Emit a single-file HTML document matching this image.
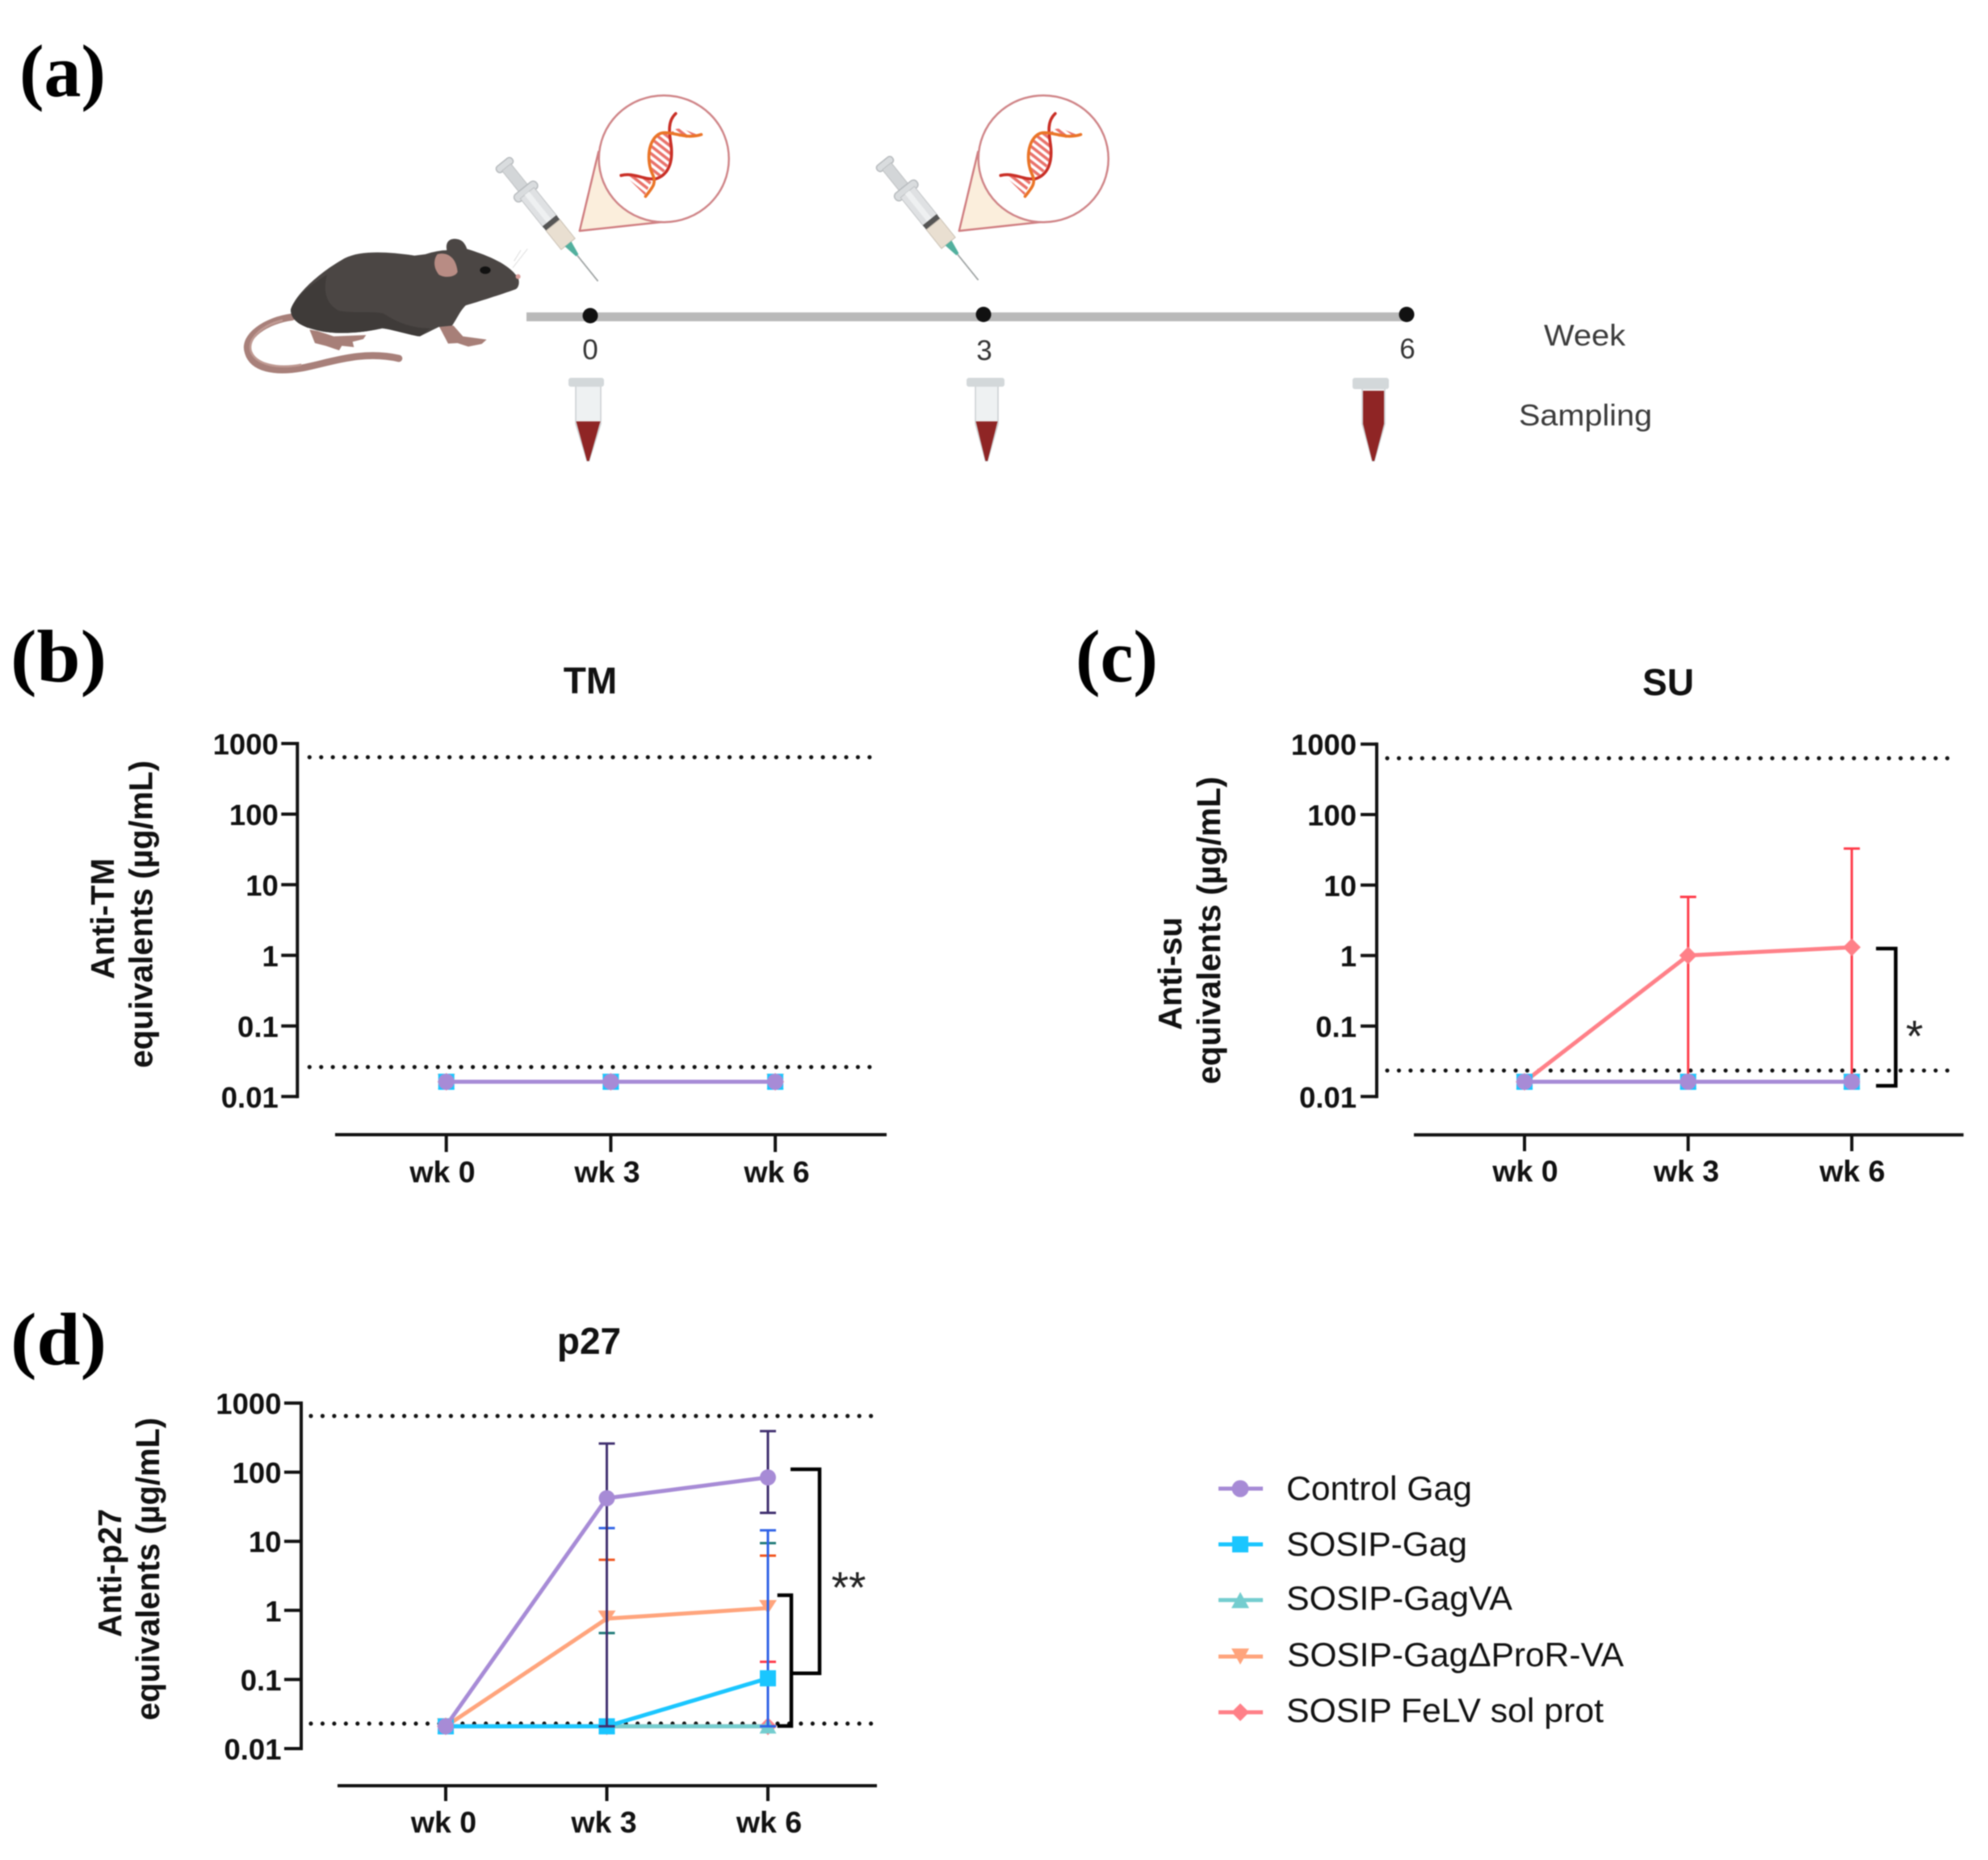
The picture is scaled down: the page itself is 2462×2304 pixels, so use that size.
<!DOCTYPE html>
<html lang="en">
<head>
<meta charset="utf-8">
<title>Immunisation schedule and antibody responses</title>
<style>
html,body{margin:0;padding:0;background:#fff;}
svg{display:block;filter:blur(0.7px);}
text{font-family:"Liberation Sans",sans-serif;fill:#111;}
.tick{font-size:36.5px;font-weight:bold;text-anchor:end;}
.cat{font-size:37.5px;font-weight:bold;text-anchor:middle;}
.ttl{font-size:46px;font-weight:bold;text-anchor:middle;}
.ytitle{font-size:41px;font-weight:bold;}
.panel{font-family:"Liberation Serif",serif;font-size:92px;font-weight:bold;fill:#000;}
.leg{font-size:42px;fill:#111;}
.tl{font-size:35px;fill:#333;text-anchor:middle;}
.tlr{font-size:37px;fill:#3a3a3a;}
.sig{font-size:55px;fill:#222;text-anchor:middle;}
</style>
</head>
<body>
<svg id="figure" xmlns="http://www.w3.org/2000/svg" width="2462" height="2304" viewBox="0 0 2462 2304">
<defs>
  <pattern id="hatch" patternUnits="userSpaceOnUse" width="22" height="22" patternTransform="rotate(38)">
    <rect width="22" height="11" fill="#e9726b"/>
  </pattern>
  <g id="bubble">
    <path d="M742.7 188 L719.3 286 L840 273 Z" fill="#fbeedc" stroke="#cf7d80" stroke-width="2.5" stroke-linejoin="round"/>
    <ellipse cx="823.7" cy="196.7" rx="80.5" ry="78.5" fill="#fff" stroke="#cf8487" stroke-width="2.5"/>
    <g transform="translate(600,100) scale(0.3333)">
      <path d="M700 190 C725 160 770 195 800 200 L745 215 L690 190 Z M650 200 C610 240 610 320 640 360 C680 345 700 300 695 240 C695 220 690 200 680 195 Z M530 355 C560 345 590 355 615 365 L625 375 L600 425 Z" fill="url(#hatch)"/>
      <path d="M715 122 C685 150 690 190 698 240 C705 300 690 350 640 365 C590 368 560 340 512 352" fill="none" stroke="#c92f26" stroke-width="11" stroke-linecap="round"/>
      <path d="M810 200 C750 220 700 185 660 195 C610 215 605 300 630 350 C645 385 625 400 603 430" fill="none" stroke="#ea7427" stroke-width="11" stroke-linecap="round"/>
    </g>
  </g>
  <g id="syringe">
    <rect x="-3" y="-12" width="9" height="24" rx="4" fill="#d9dcde" stroke="#b4b8bb" stroke-width="1.5"/>
    <rect x="5" y="-7" width="36" height="14" fill="#d3d6d8" stroke="#bcbfc1" stroke-width="1"/>
    <rect x="38" y="-17" width="11" height="34" rx="5" fill="#d9dcde" stroke="#b6babd" stroke-width="1.5"/>
    <rect x="46" y="-11" width="46" height="22" fill="#dfe1e3" stroke="#bfc2c4" stroke-width="1"/>
    <rect x="46" y="-3" width="46" height="7" fill="#eef0f1"/>
    <rect x="90" y="-11" width="7" height="22" fill="#555"/>
    <rect x="97" y="-11" width="30" height="22" fill="#e9dfd1" stroke="#c8bfb2" stroke-width="1"/>
    <path d="M127 -5 L145 -2 L145 2 L127 5 Z" fill="#52b09e"/>
    <line x1="145" y1="0" x2="186" y2="0" stroke="#9ea3a3" stroke-width="1.8"/>
  </g>
</defs>
<rect x="0" y="0" width="2462" height="2304" fill="#fff"/>

<!-- panel letters -->
<text class="panel" x="24" y="119" textLength="107" lengthAdjust="spacingAndGlyphs">(a)</text>
<text class="panel" x="13" y="844" textLength="119" lengthAdjust="spacingAndGlyphs">(b)</text>
<text class="panel" x="1332" y="844" textLength="102" lengthAdjust="spacingAndGlyphs">(c)</text>
<text class="panel" x="13" y="1690" textLength="119" lengthAdjust="spacingAndGlyphs">(d)</text>

<!-- schedule panel -->
<g>
  <g transform="translate(280,260) scale(0.3333)">
    <path d="M245 398 C150 410 60 470 82 530 C100 590 180 605 280 588 C380 570 500 520 642 552" fill="none" stroke="#a8807a" stroke-width="26" stroke-linecap="round"/>
    <path d="M210 410 C130 430 80 480 92 525 C110 575 190 592 280 575" fill="none" stroke="#c09a93" stroke-width="8"/>
    <path d="M310 445 L340 450 L400 470 L520 465 L510 480 L470 490 L475 510 L430 505 L420 522 L370 505 L330 495 Z" fill="#a77f78"/>
    <path d="M790 430 L845 430 L880 470 L968 482 L950 498 L900 508 L860 495 L825 497 Z" fill="#a77f78"/>
    <path d="M240 370 C260 310 350 230 440 180 C500 150 600 155 700 170 L740 165 C770 155 800 150 820 150 C815 125 825 105 855 108 C880 110 890 130 895 145 C960 165 1040 195 1075 240 C1095 255 1090 290 1075 295 C1020 315 940 340 890 355 C870 375 860 400 840 430 L790 435 L720 470 C680 465 620 445 580 440 C520 455 420 465 350 450 C300 440 240 420 240 370 Z" fill="#4b4644"/>
    <path d="M240 370 C260 320 300 290 375 240 C360 300 370 350 420 375 C480 385 540 375 585 385 C640 420 690 440 760 440 L720 470 C680 465 620 445 580 440 C520 455 420 465 350 450 C300 440 240 420 240 370 Z" fill="#3f3b39"/>
    <path d="M785 165 C820 155 855 175 860 230 C855 250 810 255 790 240 C770 215 770 185 785 165 Z" fill="#b88c84"/>
    <ellipse cx="963" cy="224" rx="20" ry="14" fill="#111"/>
    <circle cx="1085" cy="248" r="9" fill="#d99d9a"/>
    <path d="M1065 215 L1120 145 M1070 190 L1095 150" stroke="#ddd" stroke-width="3" fill="none"/>
  </g>
  <use href="#bubble" transform="translate(-1.5,0)"/>
  <use href="#bubble" transform="translate(468.5,0)"/>
  <use href="#syringe" transform="translate(624,203.3) rotate(51.2)"/>
  <use href="#syringe" transform="translate(1095,202) rotate(51.2)"/>
  <rect x="652" y="387" width="1089" height="11" fill="#b9b9b9"/>
  <circle cx="731" cy="391" r="9.5" fill="#111"/>
  <circle cx="1218" cy="389.5" r="9.5" fill="#111"/>
  <circle cx="1742" cy="389.5" r="9.5" fill="#111"/>
  <text class="tl" x="731" y="445">0</text>
  <text class="tl" x="1219" y="446">3</text>
  <text class="tl" x="1743" y="444">6</text>
  <text class="tlr" x="1912" y="428" textLength="101" lengthAdjust="spacingAndGlyphs">Week</text>
  <text class="tlr" x="1881" y="527" textLength="165" lengthAdjust="spacingAndGlyphs">Sampling</text>

  <g>
    <path d="M713 478 L744 478 L744 525 L729.5 571 L727 571 L713 525 Z" fill="#eef1f2" stroke="#c9cdcf" stroke-width="1.5"/>
    <path d="M713.5 522 L743.5 522 L729.5 571 L727 571 Z" fill="#8f2525"/>
    <rect x="704" y="468" width="44" height="11" rx="3" fill="#d3d8da"/>
  </g>
  <g>
    <path d="M1208 478 L1236 478 L1236 525 L1223 571 L1220.5 571 L1208 525 Z" fill="#eef1f2" stroke="#c9cdcf" stroke-width="1.5"/>
    <path d="M1208.5 522 L1235.5 522 L1223 571 L1220.5 571 Z" fill="#8f2525"/>
    <rect x="1197" y="468" width="47" height="11" rx="3" fill="#d3d8da"/>
  </g>
  <g>
    <path d="M1687 478 L1715 478 L1715 525 L1702 571 L1699.5 571 L1687 525 Z" fill="#eef1f2" stroke="#c9cdcf" stroke-width="1.5"/>
    <path d="M1688 484 L1714 484 L1714 525 L1702 571 L1699.5 571 L1688 525 Z" fill="#8f2525"/>
    <rect x="1675" y="468" width="45" height="14" rx="3" fill="#d3d8da"/>
  </g>
</g>

<g id="chart-tm"></g>
<g id="chart-su"></g>
<g id="chart-p27"></g>

<!-- y titles -->
<text class="ytitle" transform="translate(141,1213) rotate(-90)" textLength="150" lengthAdjust="spacingAndGlyphs">Anti-TM</text>
<text class="ytitle" transform="translate(188.5,1323) rotate(-90)" textLength="381" lengthAdjust="spacingAndGlyphs">equivalents (µg/mL)</text>
<text class="ytitle" transform="translate(1463,1276) rotate(-90)" textLength="140" lengthAdjust="spacingAndGlyphs">Anti-su</text>
<text class="ytitle" transform="translate(1511,1343) rotate(-90)" textLength="381" lengthAdjust="spacingAndGlyphs">equivalents (µg/mL)</text>
<text class="ytitle" transform="translate(150,2028) rotate(-90)" textLength="159" lengthAdjust="spacingAndGlyphs">Anti-p27</text>
<text class="ytitle" transform="translate(197,2131) rotate(-90)" textLength="375" lengthAdjust="spacingAndGlyphs">equivalents (µg/mL)</text>

<!-- significance brackets -->
<path d="M2323.3 1175 L2347.7 1175 L2347.7 1345 L2323.3 1345" fill="none" stroke="#000" stroke-width="4.5"/>
<text class="sig" x="2371" y="1302">*</text>
<path d="M979 1820 L1015 1820 L1015 2072.7 L980 2072.7" fill="none" stroke="#000" stroke-width="4.5"/>
<path d="M962.7 1976 L980 1976 L980 2138 L962.7 2138" fill="none" stroke="#000" stroke-width="4.5"/>
<text class="sig" x="1051" y="1985">**</text>

<!-- legend -->
<g>
  <g>
    <line x1="1509" x2="1564" y1="1844" y2="1844" stroke="#a78bd6" stroke-width="5"/>
    <circle cx="1536" cy="1844" r="10.5" fill="#a78bd6"/>
    <text class="leg" x="1593" y="1858" textLength="230" lengthAdjust="spacingAndGlyphs">Control Gag</text>
  </g>
  <g>
    <line x1="1509" x2="1564" y1="1913" y2="1913" stroke="#1ac6ff" stroke-width="5"/>
    <rect x="1526" y="1903" width="20" height="20" fill="#1ac6ff"/>
    <text class="leg" x="1593" y="1927" textLength="224" lengthAdjust="spacingAndGlyphs">SOSIP-Gag</text>
  </g>
  <g>
    <line x1="1509" x2="1564" y1="1982" y2="1982" stroke="#74cdcf" stroke-width="5"/>
    <path d="M1536 1972 L1547 1992 L1525 1992 Z" fill="#74cdcf"/>
    <text class="leg" x="1593" y="1994" textLength="280" lengthAdjust="spacingAndGlyphs">SOSIP-GagVA</text>
  </g>
  <g>
    <line x1="1509" x2="1564" y1="2052" y2="2052" stroke="#ffa47c" stroke-width="5"/>
    <path d="M1525 2042 L1547 2042 L1536 2062 Z" fill="#ffa47c"/>
    <text class="leg" x="1594" y="2064" textLength="417" lengthAdjust="spacingAndGlyphs">SOSIP-GagΔProR-VA</text>
  </g>
  <g>
    <line x1="1509" x2="1564" y1="2121" y2="2121" stroke="#ff8088" stroke-width="5"/>
    <path d="M1536 2110 L1547 2121 L1536 2132 L1525 2121 Z" fill="#ff8088"/>
    <text class="leg" x="1593" y="2133" textLength="393" lengthAdjust="spacingAndGlyphs">SOSIP FeLV sol prot</text>
  </g>
</g>
</svg>

<script>
// ---- shared categories and ticks ----
const weekLabels = ['wk 0', 'wk 3', 'wk 6'];
const yTickValues = [1000, 100, 10, 1, 0.1, 0.01];
const yTickLabels = ['1000', '100', '10', '1', '0.1', '0.01'];

// ---- TM panel values ----
const tmControlGag = [0.0162, 0.0162, 0.0162];
const tmSosipGag = [0.0162, 0.0162, 0.0162];
const tmSosipGagVA = [0.0162, 0.0162, 0.0162];
const tmSosipDeltaProR = [0.0162, 0.0162, 0.0162];
const tmSosipFelv = [0.0162, 0.0162, 0.0162];
const tmLimits = [640, 0.0262];

// ---- SU panel values ----
const suControlGag = [0.0162, 0.0162, 0.0162];
const suSosipGag = [0.0162, 0.0162, 0.0162];
const suSosipGagVA = [0.0162, 0.0162, 0.0162];
const suSosipDeltaProR = [0.0162, 0.0162, 0.0162];
const suSosipFelv = [0.0162, 1.005, 1.31];
const suSosipFelvUpper = [null, 6.8, 33];
const suSosipFelvLower = [null, 0.0162, 0.0162];
const suLimits = [630, 0.0234];

// ---- p27 panel values ----
const p27ControlGag = [0.021, 42, 84];
const p27ControlGagUpper = [null, 260, 393];
const p27ControlGagLower = [null, 0.021, 25.8];
const p27SosipGag = [0.021, 0.021, 0.104];
const p27SosipGagUpper = [null, 15.5, 14.4];
const p27SosipGagLower = [null, 0.021, 0.021];
const p27SosipGagVA = [0.021, 0.021, 0.021];
const p27SosipGagVAUpper = [null, 0.47, 9.4];
const p27SosipGagVALower = [null, 0.021, 0.021];
const p27SosipDeltaProR = [0.021, 0.76, 1.08];
const p27SosipDeltaProRUpper = [null, 5.4, 6.2];
const p27SosipDeltaProRLower = [null, 0.021, 0.021];
const p27SosipFelv = [0.021, 0.021, 0.021];
const p27SosipFelvUpper = [null, null, 0.18];
const p27SosipFelvLower = [null, null, 0.021];
const p27Limits = [650, 0.023];

const NS = 'http://www.w3.org/2000/svg';
function mk(tag, attrs, parent) {
  const el = document.createElementNS(NS, tag);
  for (const k in attrs) el.setAttribute(k, attrs[k]);
  parent.appendChild(el);
  return el;
}

const styles = {
  felv: { line: '#ff8088', err: '#ff3a48', shape: 'diamond' },
  dpror: { line: '#ffa47c', err: '#f0541e', shape: 'down' },
  va: { line: '#74cdcf', err: '#1f7a78', shape: 'up' },
  gag: { line: '#1ac6ff', err: '#2f62e6', shape: 'square' },
  control: { line: '#a78bd6', err: '#3f2e6e', shape: 'circle' }
};

function drawMarker(g, shape, x, y, color) {
  let m;
  if (shape === 'circle') m = mk('circle', { cx: x, cy: y, r: 10, fill: color }, g);
  else if (shape === 'square') m = mk('rect', { x: x - 10, y: y - 10, width: 20, height: 20, fill: color }, g);
  else if (shape === 'up') m = mk('path', { d: `M${x} ${y - 10}L${x + 10.5} ${y + 9}L${x - 10.5} ${y + 9}Z`, fill: color }, g);
  else if (shape === 'down') m = mk('path', { d: `M${x - 11} ${y - 10}L${x + 11} ${y - 10}L${x} ${y + 7}Z`, fill: color }, g);
  else m = mk('path', { d: `M${x} ${y - 11}L${x + 11} ${y}L${x} ${y + 11}L${x - 11} ${y}Z`, fill: color }, g);
  
  
}

function drawChart(rootId, prefix, c, limits, series) {
  const root = document.getElementById(rootId);
  const decade = (c.yBottom - c.yTop) / 5;
  const yScale = v => c.yBottom - decade * (Math.log10(v) + 2);
  const xScale = i => c.x0 + i * c.dx;

  const title = mk('text', { class: 'ttl', x: c.titleX, y: c.titleY }, root);
  title.textContent = c.title;
  
  

  limits.forEach(v => {
    const d = mk('line', { x1: c.dotStart, x2: c.dotEnd, y1: yScale(v), y2: yScale(v), stroke: '#111', 'stroke-width': 5.2, 'stroke-linecap': 'round', 'stroke-dasharray': '0 14.45' }, root);
    
    
  });

  const yAxis = mk('line', { x1: c.axisX, x2: c.axisX, y1: c.yTop - 2, y2: c.yBottom + 2, stroke: '#111', 'stroke-width': 4 }, root);
  
  
  yTickValues.forEach((v, i) => {
    const t = mk('line', { x1: c.tickLeft, x2: c.axisX, y1: yScale(v), y2: yScale(v), stroke: '#111', 'stroke-width': 4 }, root);
    
    
    const l = mk('text', { class: 'tick', x: c.tickLeft - c.tickGap, y: yScale(v) + 13.5 }, root);
    l.textContent = yTickLabels[i];
    
    
  });

  const xAxis = mk('line', { x1: c.xAxisStart, x2: c.xAxisEnd, y1: c.xAxisY, y2: c.xAxisY, stroke: '#111', 'stroke-width': 4 }, root);
  
  
  weekLabels.forEach((w, i) => {
    const t = mk('line', { x1: xScale(i), x2: xScale(i), y1: c.xAxisY, y2: c.xTickEnd, stroke: '#111', 'stroke-width': 4 }, root);
    
    
    const l = mk('text', { class: 'cat', x: c.labelX0 + i * c.labelDx + (i === 1 ? c.labelMidShift : 0), y: c.labelY }, root);
    l.textContent = w;
    
    
  });

  series.forEach(s => {
    const st = styles[s.key];
    const g = mk('g', {}, root);
    
    
    const pts = s.values.map((v, i) => xScale(i) + ',' + yScale(v)).join(' ');
    const line = mk('polyline', { points: pts, fill: 'none', stroke: st.line, 'stroke-width': 5, 'stroke-linejoin': 'round' }, g);
    
    
    if (s.upper) {
      s.upper.forEach((u, i) => {
        if (u === null) return;
        const x = xScale(i);
        const low = s.lower[i];
        const bar = mk('line', { x1: x, x2: x, y1: yScale(u), y2: yScale(low), stroke: st.err, 'stroke-width': 3 }, g);
        
        
        const cap = mk('line', { x1: x - 10, x2: x + 10, y1: yScale(u), y2: yScale(u), stroke: st.err, 'stroke-width': 3 }, g);
        
        
        if (low !== s.values[i]) {
          const capLow = mk('line', { x1: x - 10, x2: x + 10, y1: yScale(low), y2: yScale(low), stroke: st.err, 'stroke-width': 3 }, g);
          
          
        }
      });
    }
    s.values.forEach((v, i) => drawMarker(g, st.shape, xScale(i), yScale(v), st.line));
  });
}

drawChart('chart-tm', 'tm', {
  title: 'TM', titleX: 731, titleY: 859,
  x0: 552.7, dx: 203.7, yTop: 921, yBottom: 1358.3,
  axisX: 368.3, tickLeft: 348.3, tickGap: 3.5,
  dotStart: 383.3, dotEnd: 1089,
  xAxisStart: 415, xAxisEnd: 1098, xAxisY: 1405.5, xTickEnd: 1427,
  labelX0: 548, labelDx: 207, labelMidShift: -3, labelY: 1464.7
}, tmLimits, [
  { key: 'felv', values: tmSosipFelv },
  { key: 'dpror', values: tmSosipDeltaProR },
  { key: 'va', values: tmSosipGagVA },
  { key: 'gag', values: tmSosipGag },
  { key: 'control', values: tmControlGag }
]);

drawChart('chart-su', 'su', {
  title: 'SU', titleX: 2066, titleY: 861,
  x0: 1888, dx: 202.65, yTop: 921.7, yBottom: 1358.3,
  axisX: 1705, tickLeft: 1685, tickGap: 5,
  dotStart: 1718, dotEnd: 2420,
  xAxisStart: 1751, xAxisEnd: 2431.7, xAxisY: 1405.7, xTickEnd: 1426,
  labelX0: 1889, labelDx: 202.5, labelMidShift: -3, labelY: 1463.3
}, suLimits, [
  { key: 'felv', values: suSosipFelv, upper: suSosipFelvUpper, lower: suSosipFelvLower },
  { key: 'dpror', values: suSosipDeltaProR },
  { key: 'va', values: suSosipGagVA },
  { key: 'gag', values: suSosipGag },
  { key: 'control', values: suControlGag }
]);

drawChart('chart-p27', 'p27', {
  title: 'p27', titleX: 729.5, titleY: 1677,
  x0: 552, dx: 199.5, yTop: 1738, yBottom: 2166,
  axisX: 373, tickLeft: 352, tickGap: 3.5,
  dotStart: 385, dotEnd: 1079,
  xAxisStart: 418, xAxisEnd: 1086, xAxisY: 2212, xTickEnd: 2231,
  labelX0: 549.5, labelDx: 201.5, labelMidShift: -3, labelY: 2270
}, p27Limits, [
  { key: 'felv', values: p27SosipFelv, upper: p27SosipFelvUpper, lower: p27SosipFelvLower },
  { key: 'dpror', values: p27SosipDeltaProR, upper: p27SosipDeltaProRUpper, lower: p27SosipDeltaProRLower },
  { key: 'va', values: p27SosipGagVA, upper: p27SosipGagVAUpper, lower: p27SosipGagVALower },
  { key: 'gag', values: p27SosipGag, upper: p27SosipGagUpper, lower: p27SosipGagLower },
  { key: 'control', values: p27ControlGag, upper: p27ControlGagUpper, lower: p27ControlGagLower }
]);
</script>
</body>
</html>
